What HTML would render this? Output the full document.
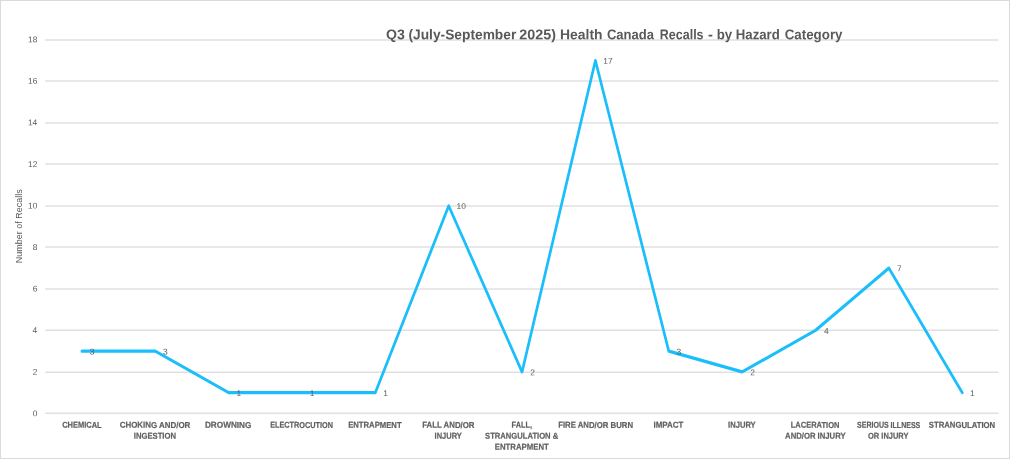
<!DOCTYPE html>
<html lang="en">
<head>
<meta charset="utf-8">
<title>Q3 (July-September 2025) Health Canada Recalls - by Hazard Category</title>
<style>
html,body{margin:0;padding:0;background:#fff;}
body{width:1010px;height:459px;overflow:hidden;}
svg{display:block;}
text{font-family:"Liberation Sans",sans-serif;fill:#595959;}
.t{font-weight:bold;font-size:14.1px;}
.c{font-weight:bold;font-size:8.6px;fill:#606060;stroke:#606060;stroke-width:0.2px;}
.y,.d{font-size:8.4px;}
.a{font-size:8.8px;text-anchor:middle;}
</style>
</head>
<body>
<svg width="1010" height="459" viewBox="0 0 1010 459">
<rect x="0" y="0" width="1010" height="459" fill="#ffffff"/>
<!-- chart border -->
<rect x="0.5" y="0.5" width="1009" height="458" fill="none" stroke="#dadada" stroke-width="1"/>
<!-- gridlines -->
<g stroke="#e0e0e0" stroke-width="1.45">
<line x1="45.2" y1="39.97" x2="998.5" y2="39.97"/>
<line x1="45.2" y1="81.05" x2="998.5" y2="81.05"/>
<line x1="45.2" y1="123.00" x2="998.5" y2="123.00"/>
<line x1="45.2" y1="164.07" x2="998.5" y2="164.07"/>
<line x1="45.2" y1="206.05" x2="998.5" y2="206.05"/>
<line x1="45.2" y1="247.07" x2="998.5" y2="247.07"/>
<line x1="45.2" y1="289.07" x2="998.5" y2="289.07"/>
<line x1="45.2" y1="330.30" x2="998.5" y2="330.30"/>
<line x1="45.2" y1="372.20" x2="998.5" y2="372.20"/>
<line x1="45.2" y1="413.20" x2="998.5" y2="413.20"/>
</g>
<!-- axis title -->
<text class="a" transform="translate(22.15,226.2) rotate(-90)" textLength="74" lengthAdjust="spacingAndGlyphs">Number of Recalls</text>
<!-- series line -->
<g transform="scale(0.84,1)"><polyline points="97.50,351.15 184.83,351.15 272.17,392.66 359.50,392.66 446.83,392.66 534.17,205.88 621.50,371.90 708.83,60.61 796.17,351.15 883.50,371.90 970.83,330.40 1058.17,268.14 1145.50,392.66" fill="none" stroke="#19befb" stroke-width="3.2" stroke-linejoin="round" stroke-linecap="round"/></g>
<!-- text -->
<text class="t" transform="translate(386.00,39.20) rotate(0.05)"><tspan x="0.00" y="-0.000" textLength="18.84" lengthAdjust="spacingAndGlyphs">Q3</tspan> <tspan x="22.49" y="-0.020" textLength="107.79" lengthAdjust="spacingAndGlyphs">(July-September</tspan> <tspan x="133.32" y="-0.116" textLength="36.66" lengthAdjust="spacingAndGlyphs">2025)</tspan> <tspan x="174.04" y="-0.152" textLength="42.48" lengthAdjust="spacingAndGlyphs">Health</tspan> <tspan x="220.94" y="-0.193" textLength="47.09" lengthAdjust="spacingAndGlyphs">Canada</tspan> <tspan x="273.83" y="-0.239" textLength="43.72" lengthAdjust="spacingAndGlyphs">Recalls</tspan> <tspan x="321.98" y="-0.281" textLength="4.89" lengthAdjust="spacingAndGlyphs">-</tspan> <tspan x="330.68" y="-0.289" textLength="15.50" lengthAdjust="spacingAndGlyphs">by</tspan> <tspan x="349.78" y="-0.305" textLength="44.04" lengthAdjust="spacingAndGlyphs">Hazard</tspan> <tspan x="398.73" y="-0.348" textLength="57.76" lengthAdjust="spacingAndGlyphs">Category</tspan></text>
<text class="c" transform="translate(62.18,427.85) rotate(0.05)" textLength="39.52" lengthAdjust="spacingAndGlyphs">CHEMICAL</text>
<text class="c" transform="translate(119.77,427.85) rotate(0.05)" textLength="70.49" lengthAdjust="spacingAndGlyphs">CHOKING AND/OR</text>
<text class="c" transform="translate(133.75,438.80) rotate(0.05)" textLength="42.22" lengthAdjust="spacingAndGlyphs">INGESTION</text>
<text class="c" transform="translate(204.92,427.85) rotate(0.05)" textLength="46.51" lengthAdjust="spacingAndGlyphs">DROWNING</text>
<text class="c" transform="translate(270.18,427.85) rotate(0.05)" textLength="62.75" lengthAdjust="spacingAndGlyphs">ELECTROCUTION</text>
<text class="c" transform="translate(348.15,427.85) rotate(0.05)" textLength="53.50" lengthAdjust="spacingAndGlyphs">ENTRAPMENT</text>
<text class="c" transform="translate(422.14,427.85) rotate(0.05)" textLength="52.41" lengthAdjust="spacingAndGlyphs">FALL AND/OR</text>
<text class="c" transform="translate(434.56,438.80) rotate(0.05)" textLength="27.20" lengthAdjust="spacingAndGlyphs">INJURY</text>
<text class="c" transform="translate(511.57,427.85) rotate(0.05)" textLength="20.35" lengthAdjust="spacingAndGlyphs">FALL,</text>
<text class="c" transform="translate(485.08,438.80) rotate(0.05)" textLength="73.19" lengthAdjust="spacingAndGlyphs">STRANGULATION &amp;</text>
<text class="c" transform="translate(494.75,449.75) rotate(0.05)" textLength="54.01" lengthAdjust="spacingAndGlyphs">ENTRAPMENT</text>
<text class="c" transform="translate(558.15,427.85) rotate(0.05)" textLength="74.92" lengthAdjust="spacingAndGlyphs">FIRE AND/OR BURN</text>
<text class="c" transform="translate(653.44,427.85) rotate(0.05)" textLength="30.02" lengthAdjust="spacingAndGlyphs">IMPACT</text>
<text class="c" transform="translate(728.06,427.85) rotate(0.05)" textLength="27.61" lengthAdjust="spacingAndGlyphs">INJURY</text>
<text class="c" transform="translate(790.76,427.85) rotate(0.05)" textLength="48.63" lengthAdjust="spacingAndGlyphs">LACERATION</text>
<text class="c" transform="translate(785.08,438.80) rotate(0.05)" textLength="60.52" lengthAdjust="spacingAndGlyphs">AND/OR INJURY</text>
<text class="c" transform="translate(857.00,427.85) rotate(0.05)" textLength="63.30" lengthAdjust="spacingAndGlyphs">SERIOUS ILLNESS</text>
<text class="c" transform="translate(867.98,438.80) rotate(0.05)" textLength="40.51" lengthAdjust="spacingAndGlyphs">OR INJURY</text>
<text class="c" transform="translate(928.78,427.85) rotate(0.05)" textLength="66.35" lengthAdjust="spacingAndGlyphs">STRANGULATION</text>
<text class="y" transform="translate(28.05,42.27) rotate(0.05)">18</text>
<text class="y" transform="translate(28.05,83.82) rotate(0.05)">16</text>
<text class="y" transform="translate(27.92,125.37) rotate(0.05)">14</text>
<text class="y" transform="translate(28.05,166.92) rotate(0.05)">12</text>
<text class="y" transform="translate(28.05,208.47) rotate(0.05)">10</text>
<text class="y" transform="translate(32.67,250.02) rotate(0.05)">8</text>
<text class="y" transform="translate(32.67,291.57) rotate(0.05)">6</text>
<text class="y" transform="translate(32.55,333.12) rotate(0.05)">4</text>
<text class="y" transform="translate(32.80,374.67) rotate(0.05)">2</text>
<text class="y" transform="translate(32.67,416.22) rotate(0.05)">0</text>
<text class="d" transform="translate(89.65,354.44) rotate(0.05)">3</text>
<text class="d" transform="translate(163.01,354.44) rotate(0.05)">3</text>
<text class="d" transform="translate(236.50,395.98) rotate(0.05)">1</text>
<text class="d" transform="translate(309.86,395.98) rotate(0.05)">1</text>
<text class="d" transform="translate(383.22,395.98) rotate(0.05)">1</text>
<text class="d" transform="translate(456.58,209.06) rotate(0.05)">10</text>
<text class="d" transform="translate(530.18,375.21) rotate(0.05)">2</text>
<text class="d" transform="translate(603.29,63.67) rotate(0.05)">17</text>
<text class="d" transform="translate(676.53,354.44) rotate(0.05)">3</text>
<text class="d" transform="translate(750.26,375.21) rotate(0.05)">2</text>
<text class="d" transform="translate(823.88,333.67) rotate(0.05)">4</text>
<text class="d" transform="translate(896.99,271.36) rotate(0.05)">7</text>
<text class="d" transform="translate(970.09,395.98) rotate(0.05)">1</text>
</svg>
</body>
</html>
